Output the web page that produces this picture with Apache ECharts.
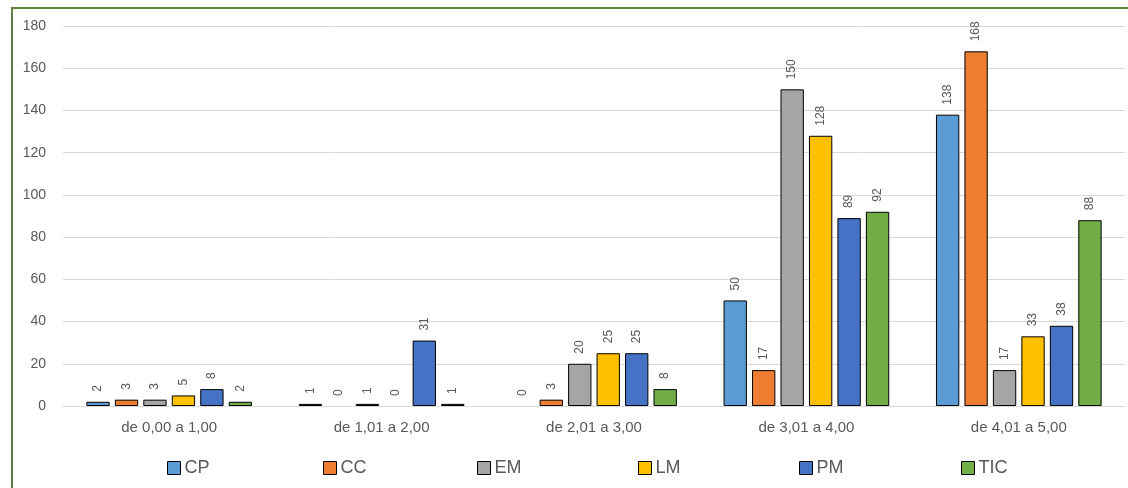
<!DOCTYPE html>
<html>
<head>
<meta charset="utf-8">
<script src="https://cdn.jsdelivr.net/npm/echarts@6/dist/echarts.min.js"></script>
<style>
html,body{margin:0;padding:0;background:#fff;}
#chart{width:1128px;height:488px;}
</style>
</head>
<body>
<div id="chart"></div>
<script>
const categories = ['de 0,00 a 1,00', 'de 1,01 a 2,00', 'de 2,01 a 3,00', 'de 3,01 a 4,00', 'de 4,01 a 5,00'];
const seriesNames = ['CP', 'CC', 'EM', 'LM', 'PM', 'TIC'];
const CP  = [2, 1, 0, 50, 138];
const CC  = [3, 0, 3, 17, 168];
const EM  = [3, 1, 20, 150, 17];
const LM  = [5, 0, 25, 128, 33];
const PM  = [8, 31, 25, 89, 38];
const TIC = [2, 1, 8, 92, 88];
const seriesValues = [CP, CC, EM, LM, PM, TIC];
const colors = ['#5B9BD5', '#ED7D31', '#A5A5A5', '#FFC000', '#4472C4', '#70AD47'];
const legendLeft = [162, 318, 472, 633, 794, 956];

const font = 'Liberation Sans, Arial, sans-serif';
const chart = echarts.init(document.getElementById('chart'));

const legends = seriesNames.map((n, i) => ({
  data: [n],
  left: legendLeft[i],
  top: 454,
  itemWidth: 13,
  itemHeight: 13,
  itemGap: 6,
  icon: 'rect',
  itemStyle: { borderColor: '#000', borderWidth: 1 },
  textStyle: { fontFamily: font, fontSize: 18, color: '#595959', padding: [0, 0, 0, -1] },
  selectedMode: false
}));

chart.setOption({
  animation: false,
  color: colors,
  graphic: [{
    type: 'rect',
    shape: { x: 12, y: 8, width: 1300, height: 700 },
    style: { fill: 'none', stroke: '#5E8043', lineWidth: 2 },
    silent: true
  }],
  legend: legends,
  grid: { left: 63, right: 3, top: 26, bottom: 82, containLabel: false },
  xAxis: {
    type: 'category',
    data: categories,
    axisLine: { lineStyle: { color: '#D9D9D9', width: 1 } },
    axisTick: { show: false },
    axisLabel: { fontFamily: font, fontSize: 15, color: '#595959', margin: 14 }
  },
  yAxis: {
    type: 'value',
    min: 0, max: 180, interval: 20,
    axisLine: { show: false },
    axisTick: { show: false },
    splitLine: { lineStyle: { color: '#D9D9D9', width: 1 } },
    axisLabel: { fontFamily: font, fontSize: 14, color: '#595959', margin: 17 }
  },
  series: seriesNames.map((n, i) => ({
    name: n,
    type: 'bar',
    barGap: '22%',
    barCategoryGap: '22%',
    data: seriesValues[i].map(v => v === 0 ? { value: 0, itemStyle: { borderWidth: 0 } } : v),
    itemStyle: { color: colors[i], borderColor: '#000', borderWidth: 1 },
    label: {
      show: true,
      position: 'top',
      rotate: 90,
      align: 'left',
      verticalAlign: 'middle',
      distance: 10,
      fontFamily: font,
      fontSize: 12,
      color: '#595959'
    }
  }))
});
</script>
</body>
</html>
